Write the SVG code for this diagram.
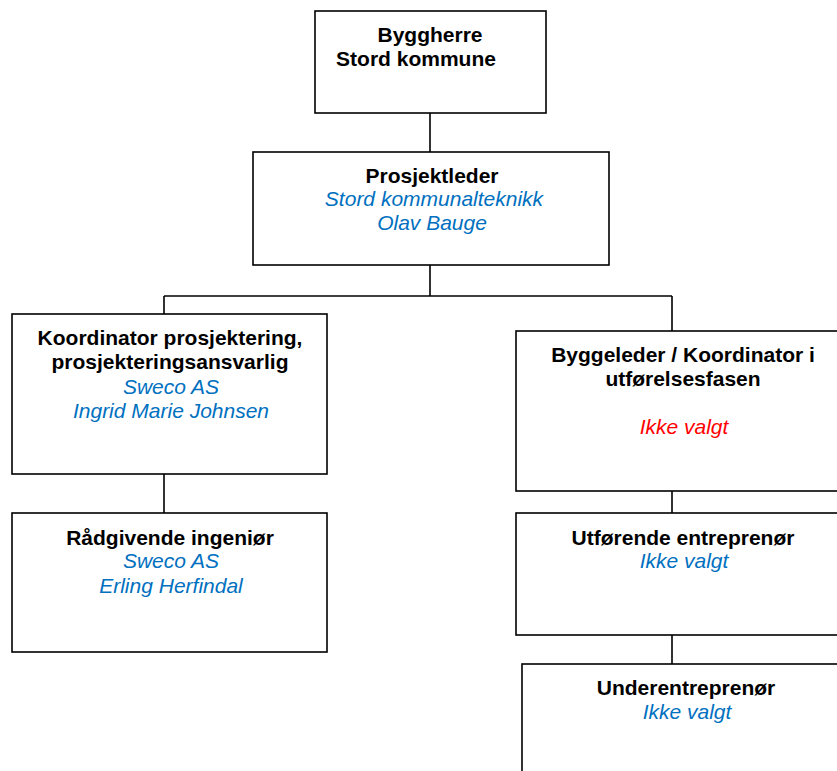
<svg xmlns="http://www.w3.org/2000/svg" width="837" height="771" viewBox="0 0 837 771">
<style>
.box{fill:#fff;stroke:#000;stroke-width:1.6}
.ln{stroke:#000;stroke-width:1.6;fill:none}
text{font-family:"Liberation Sans",Arial,sans-serif;font-size:21px;text-anchor:middle}
.b{font-weight:bold;fill:#000}
.i{font-style:italic;fill:#0070C0}
.r{font-style:italic;fill:#FF0000}
</style>
<rect width="837" height="771" fill="#fff"/>
<g id="connectors">
<path class="ln" d="M430 113V152M430 265V296M164 296H672M164 296V314M672 296V331M164 474V513M672 491V513M672 635V664"/>
</g>
<g id="byggherre">
<rect class="box" x="315" y="11" width="231" height="102"/>
<text class="b" x="430" y="42">Byggherre</text>
<text class="b" x="416" y="66">Stord kommune</text>
</g>
<g id="prosjektleder">
<rect class="box" x="253" y="152" width="356" height="113"/>
<text class="b" x="432" y="183">Prosjektleder</text>
<text class="i" x="434" y="206">Stord kommunalteknikk</text>
<text class="i" x="432" y="230">Olav Bauge</text>
</g>
<g id="koordinator">
<rect class="box" x="12" y="314" width="315" height="160"/>
<text class="b" x="170" y="345">Koordinator prosjektering,</text>
<text class="b" x="170" y="369">prosjekteringsansvarlig</text>
<text class="i" x="171" y="394">Sweco AS</text>
<text class="i" x="171" y="418">Ingrid Marie Johnsen</text>
</g>
<g id="radgivende">
<rect class="box" x="12" y="513" width="315" height="139"/>
<text class="b" x="170" y="545">Rådgivende ingeniør</text>
<text class="i" x="171" y="568">Sweco AS</text>
<text class="i" x="171" y="593">Erling Herfindal</text>
</g>
<g id="byggeleder">
<rect class="box" x="516" y="331" width="334" height="160"/>
<text class="b" x="683" y="362">Byggeleder / Koordinator i</text>
<text class="b" x="683" y="386">utførelsesfasen</text>
<text class="r" x="684" y="434">Ikke valgt</text>
</g>
<g id="utforende">
<rect class="box" x="516" y="513" width="334" height="122"/>
<text class="b" x="683" y="545">Utførende entreprenør</text>
<text class="i" x="684" y="568">Ikke valgt</text>
</g>
<g id="underentreprenor">
<rect class="box" x="522" y="664" width="334" height="130"/>
<text class="b" x="686" y="695">Underentreprenør</text>
<text class="i" x="687" y="719">Ikke valgt</text>
</g>
</svg>
